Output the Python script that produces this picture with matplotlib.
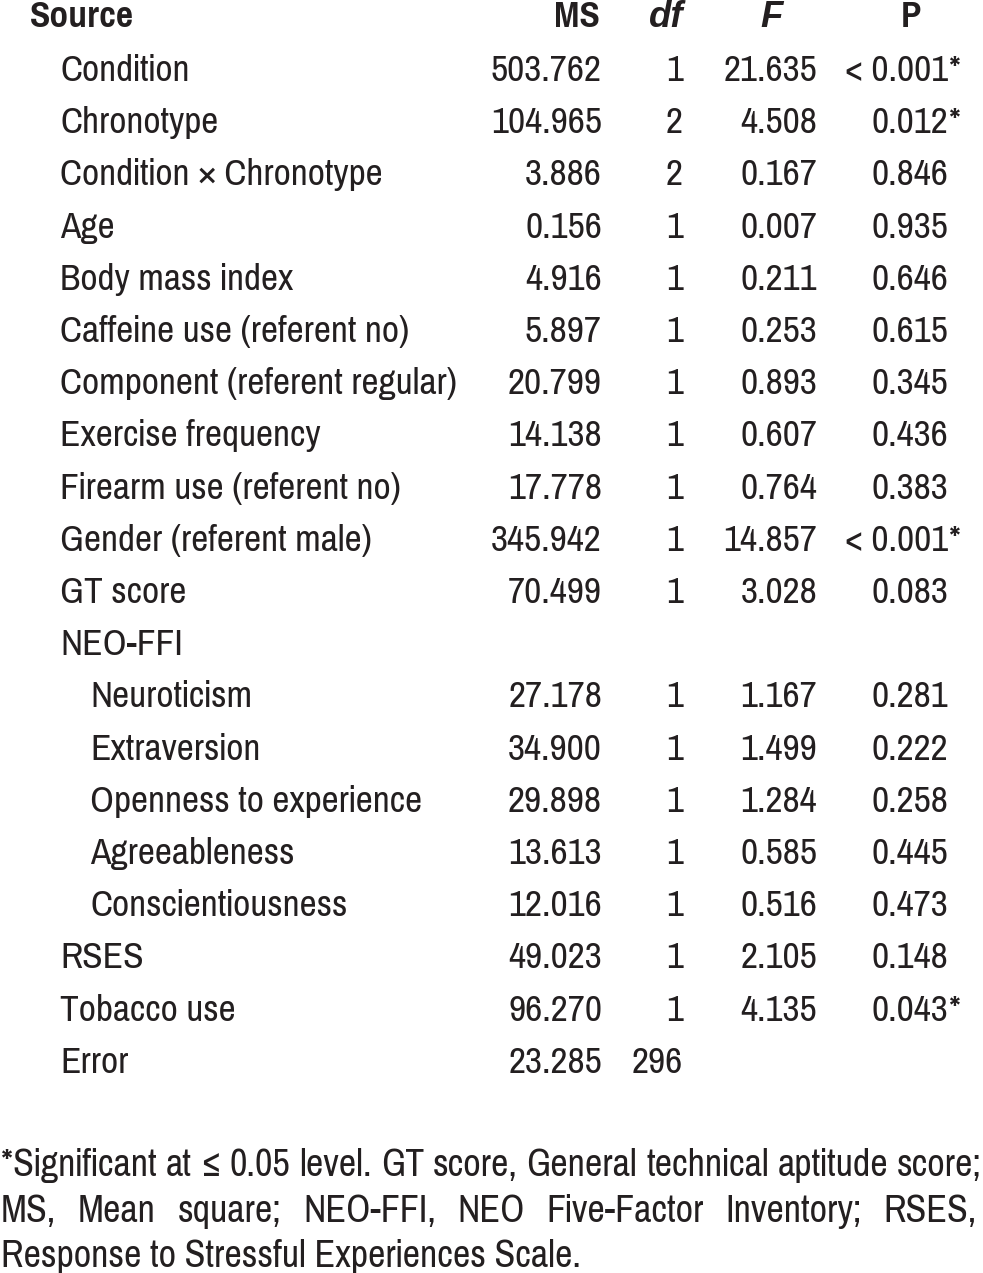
import matplotlib
matplotlib.use("Agg")
import matplotlib.pyplot as plt
from matplotlib import font_manager as fm

# ---------------- data ----------------
sources = ["Condition", "Chronotype", "Condition \u00d7 Chronotype", "Age", "Body mass index",
           "Caffeine use (referent no)", "Component (referent regular)", "Exercise frequency",
           "Firearm use (referent no)", "Gender (referent male)", "GT score", "NEO-FFI",
           "Neuroticism", "Extraversion", "Openness to experience", "Agreeableness",
           "Conscientiousness", "RSES", "Tobacco use", "Error"]
indent = [1, 1, 1, 1, 1, 1, 1, 1, 1, 1, 1, 1, 2, 2, 2, 2, 2, 1, 1, 1]
ms = ["503.762", "104.965", "3.886", "0.156", "4.916", "5.897", "20.799", "14.138", "17.778",
      "345.942", "70.499", "", "27.178", "34.900", "29.898", "13.613", "12.016", "49.023",
      "96.270", "23.285"]
dfs = ["1", "2", "2", "1", "1", "1", "1", "1", "1", "1", "1", "", "1", "1", "1", "1", "1",
       "1", "1", "296"]
fvals = ["21.635", "4.508", "0.167", "0.007", "0.211", "0.253", "0.893", "0.607", "0.764",
         "14.857", "3.028", "", "1.167", "1.499", "1.284", "0.585", "0.516", "2.105", "4.135", ""]
pvals = ["< 0.001", "0.012", "0.846", "0.935", "0.646", "0.615", "0.345", "0.436", "0.383",
         "< 0.001", "0.083", "", "0.281", "0.222", "0.258", "0.445", "0.473", "0.148", "0.043", ""]
psig = [True, True, False, False, False, False, False, False, False, True, False, False,
        False, False, False, False, False, False, True, False]
headers = ["Source", "MS", "df", "F", "P"]
footnote = ["*Significant at \u2264 0.05 level. GT score, General technical aptitude score;",
            "MS, Mean square; NEO-FFI, NEO Five-Factor Inventory; RSES,",
            "Response to Stressful Experiences Scale."]

# ---------------- font choice ----------------
names = {f.name for f in fm.fontManager.ttflist}
prefs = ["Liberation Sans Narrow", "Arial Narrow", "Pragati Narrow", "Archivo Narrow",
         "Roboto Condensed", "PT Sans Narrow", "Liberation Sans"]
main = next((p for p in prefs if p in names), "Liberation Sans")
FAM = [main, "DejaVu Sans"]
ITFAM = ["Liberation Sans", "DejaVu Sans"]
plt.rcParams['font.family'] = FAM

W, H = 983, 1273
fig = plt.figure(figsize=(W / 100, H / 100), dpi=100)
fig.patch.set_facecolor("white")
COL = "#231f20"

fig.canvas.draw()
r = fig.canvas.get_renderer()

def width(s, fs, **kw):
    t = fig.text(0, 0, s, fontsize=fs, **kw)
    w = t.get_window_extent(r).width
    t.remove()
    return w

# size chosen so the widest label spans the same width as in the reference
FS = 28 * 397 / width("Component (referent regular)", 28)
FFS = FS * 981 / width(footnote[0], FS)

def px(x, y):
    return x / W, 1 - y / H

def put(x, y, s, ha="left", fs=None, **kw):
    kw.setdefault("color", COL)
    fig.text(*px(x, y), s, ha=ha, va="baseline", fontsize=fs or FS, **kw)

# header
hb = 27
put(30, hb, headers[0], weight="bold")
put(577, hb, headers[1], ha="center", weight="bold")
put(666, hb, headers[2], ha="center", weight="bold", style="italic", family=ITFAM, fs=FS * 0.9)
put(772, hb, headers[3], ha="center", weight="bold", style="italic", family=ITFAM, fs=FS * 0.9)
put(911, hb, headers[4], ha="center", weight="bold")

row0, step = 81, 52.2
for i, s in enumerate(sources):
    yb = row0 + i * step
    put(30 + 30 * indent[i], yb, s)
    if ms[i]:
        put(602, yb, ms[i], ha="right")
    if dfs[i]:
        put(683, yb, dfs[i], ha="right")
    if fvals[i]:
        put(817, yb, fvals[i], ha="right")
    if pvals[i]:
        put(948, yb, pvals[i], ha="right")
        if psig[i]:
            put(948, yb, "*")

# footnote (lines 1-2 justified to the full width)
fy = [1176, 1222, 1267]
for li, line in enumerate(footnote):
    if li < 2:
        words = line.split(" ")
        ws = [width(w, FFS) for w in words]
        right = 982 if li == 0 else 977
        gap = (right - 1 - sum(ws)) / (len(words) - 1)
        x = 1
        for w, wd in zip(words, ws):
            put(x, fy[li], w, fs=FFS)
            x += wd + gap
    else:
        put(1, fy[li], line, fs=FFS)

fig.savefig("out.png", dpi=100, facecolor="white")
